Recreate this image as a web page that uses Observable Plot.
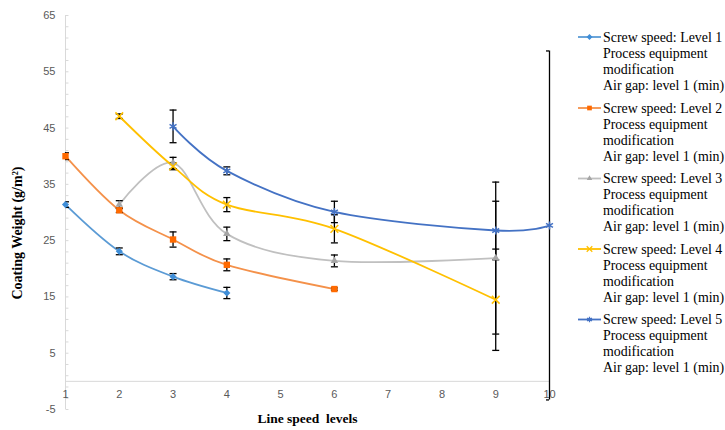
<!DOCTYPE html>
<html>
<head>
<meta charset="utf-8">
<script src="https://cdn.jsdelivr.net/npm/d3@7"></script>
<script src="https://cdn.jsdelivr.net/npm/@observablehq/plot@0.6"></script>
<style>
  html, body { margin: 0; padding: 0; background: #fff; }
  #wrap { position: relative; width: 725px; height: 430px; overflow: hidden; }
  #legend { position: absolute; left: 0; top: 0; }
  #ytitle { position: absolute; left: 18px; top: 233px; transform: translate(-50%, -50%) rotate(-90deg);
            white-space: nowrap; font: bold 14px "Liberation Serif", "Times New Roman", serif; color: #000; }
</style>
</head>
<body>
<div id="wrap"></div>
<script>
// ---- data ----
const seriesNames = [
  "Screw speed: Level 1",
  "Screw speed: Level 2",
  "Screw speed: Level 3",
  "Screw speed: Level 4",
  "Screw speed: Level 5"
];
const legendExtra = ["Process equipment", "modification", "Air gap: level 1 (min)"];

const x1 = [1, 2, 3, 4];
const y1 = [31.4, 23.1, 18.6, 15.7];
const e1 = [0.5, 0.6, 0.55, 1.0];

const x2 = [1, 2, 3, 4, 6];
const y2 = [40.0, 30.4, 25.2, 20.7, 16.4];
const e2 = [0.6, 0.4, 1.35, 1.05, 0.2];

const x3 = [2, 3, 4, 6, 9];
const y3 = [31.4, 38.8, 26.2, 21.4, 21.9];
const e3 = [0.7, 1.0, 1.2, 1.05, 13.5];

const x4 = [2, 3, 4, 6, 9];
const y4 = [47.1, 38.2, 31.4, 27.1, 14.5];
const e4 = [0.4, 0.6, 1.25, 2.5, 9.0];

const x5 = [3, 4, 6, 9, 10];
const y5 = [45.3, 37.4, 30.1, 26.8, 27.7];
const e5 = [2.9, 0.7, 1.9, 5.2, 31.0];

const xTicks = [1, 2, 3, 4, 5, 6, 7, 8, 9, 10];
const yTicks = [-5, 5, 15, 25, 35, 45, 55, 65];
const yMinor = d3.range(-5, 66, 2);
const xTitle = "Line speed  levels";
const yTitle = "Coating Weight (g/m\u00B2)";

const lineColors = ["#5B9BD5", "#F4914A", "#C0C0C0", "#FFC000", "#4472C4"];
const markColors = ["#3F8ED8", "#FF6A00", "#A5A5A5", "#FFC000", "#4472C4"];
const symbols = ["diamond2", "square", "triangle2", "times", "asterisk"];
const symSize = [3.2, 3.6, 3.6, 3.6, 3.8];

// ---- build table ----
const xs = [x1, x2, x3, x4, x5], ys = [y1, y2, y3, y4, y5], es = [e1, e2, e3, e4, e5];
const rows = [];
xs.forEach((xa, s) => xa.forEach((xv, i) => rows.push({s, name: seriesNames[s], x: xv, y: ys[s][i], e: es[s][i]})));

const capW = 0.065;
const marks = [
  Plot.ruleX([1], {y1: -5, y2: 65, stroke: "#d9d9d9", strokeWidth: 1}),
  Plot.ruleY([0], {x1: 1, x2: 10, stroke: "#d9d9d9", strokeWidth: 1}),
  Plot.link(yMinor, {x1: 1, x2: 1.055, y1: d => d, y2: d => d, stroke: "#d9d9d9"}),
  Plot.axisY({ticks: yTicks, tickSize: 0, tickPadding: 10, label: null, tickFormat: d => String(d), fontSize: 11, fill: "#595959", fontFamily: "Liberation Sans, Arial, sans-serif"}),
  Plot.text(xTicks, {x: d => d, y: 0, dy: 13, text: d => String(d), fontSize: 11, fill: "#595959", fontFamily: "Liberation Sans, Arial, sans-serif"}),
  Plot.text([xTitle], {frameAnchor: "bottom", dy: 13, fontSize: 13.5, fontWeight: "bold", fill: "#000", fontFamily: "Liberation Serif, Times New Roman, serif"})
];

for (let s = 0; s < 5; s++) {
  const d = rows.filter(r => r.s === s);
  marks.push(Plot.line(d, {x: "x", y: "y", curve: "cardinal", stroke: lineColors[s], strokeWidth: 1.8}));
}
for (let s = 0; s < 5; s++) {
  const d = rows.filter(r => r.s === s);
  marks.push(Plot.ruleX(d, {x: "x", y1: r => r.y - r.e, y2: r => r.y + r.e, stroke: "#000", strokeWidth: 1.3}));
  marks.push(Plot.link(d, {x1: r => r.x - capW, x2: r => r.x + capW, y1: r => r.y - r.e, y2: r => r.y - r.e, stroke: "#000", strokeWidth: 1.3, clip: "frame"}));
  marks.push(Plot.link(d, {x1: r => r.x - capW, x2: r => r.x + capW, y1: r => r.y + r.e, y2: r => r.y + r.e, stroke: "#000", strokeWidth: 1.3, clip: "frame"}));
}
for (let s = 0; s < 5; s++) {
  const d = rows.filter(r => r.s === s);
  const stroked = symbols[s] === "times" || symbols[s] === "asterisk";
  marks.push(Plot.dot(d, stroked
    ? {x: "x", y: "y", symbol: () => symbols[s], r: symSize[s], stroke: markColors[s], strokeWidth: 1.5, fill: "none"}
    : {x: "x", y: "y", symbol: () => symbols[s], r: symSize[s], fill: markColors[s], stroke: "none"}));
}

const chart = Plot.plot({
  width: 725,
  height: 430,
  marginLeft: 65,
  marginRight: 176,
  marginTop: 15,
  marginBottom: 21,
  x: {domain: [1, 10], axis: null},
  y: {domain: [-5, 65], axis: null},
  symbol: {type: "identity"},
  style: {background: "#fff", overflow: "visible"},
  marks
});
const wrap = document.getElementById("wrap");
wrap.appendChild(chart);

// ---- y title ----
const yt = document.createElement("div");
yt.id = "ytitle";
yt.textContent = yTitle;
wrap.appendChild(yt);

// ---- legend ----
const legendTops = [37, 108, 178.5, 249, 319.5];
const symMap = {diamond2: d3.symbolDiamond2, square: d3.symbolSquare, triangle2: d3.symbolTriangle2, times: d3.symbolTimes, asterisk: d3.symbolAsterisk};
const svg = d3.select("#wrap").append("svg").attr("id", "legend").attr("width", 725).attr("height", 430);
seriesNames.forEach((name, s) => {
  const cy = legendTops[s];
  const g = svg.append("g");
  g.append("line").attr("x1", 578).attr("x2", 601).attr("y1", cy).attr("y2", cy).attr("stroke", lineColors[s]).attr("stroke-width", 1.8);
  const stroked = symbols[s] === "times" || symbols[s] === "asterisk";
  g.append("path")
    .attr("d", d3.symbol(symMap[symbols[s]], 22)())
    .attr("transform", `translate(589.5,${cy})`)
    .attr("fill", stroked ? "none" : markColors[s])
    .attr("stroke", stroked ? markColors[s] : "none")
    .attr("stroke-width", 1.3);
  const t = g.append("text").attr("font-family", "Liberation Serif, Times New Roman, serif").attr("font-size", 13.9).attr("fill", "#000");
  [name, ...legendExtra].forEach((line, i) => {
    t.append("tspan").attr("x", 603).attr("y", cy + i * 16).attr("dy", "0.35em").text(line);
  });
});
</script>
</body>
</html>
